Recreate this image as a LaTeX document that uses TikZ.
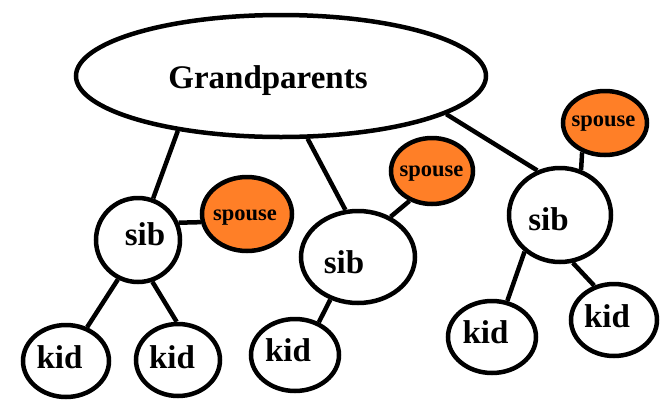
\documentclass[tikz,border=0pt]{standalone}
\usepackage{fontspec}
\setmainfont{Liberation Serif}
\usetikzlibrary{shapes.geometric}
\definecolor{sporange}{RGB}{255,127,39}
\begin{document}
\begin{tikzpicture}[x=1pt,y=-1pt, line width=4.5pt,
  oval/.style={ellipse, draw=black, fill=white, inner sep=0pt},
  spousebox/.style={oval, fill=sporange},
  big/.style={font=\fontsize{33}{36}\selectfont\bfseries, anchor=base, inner sep=0pt},
  small/.style={font=\fontsize{22.5}{25}\selectfont\bfseries, anchor=base, inner sep=0pt},
  link/.style={line width=4.5pt, line cap=butt}]
\useasboundingbox (0,0) rectangle (665,416);
% shapes
\node[oval, minimum width=410pt, minimum height=122pt] (gp) at (281,76) {};
\node[oval, minimum width=84pt, minimum height=84pt] (sib1) at (138,240) {};
\node[spousebox, minimum width=90pt, minimum height=74pt] (sp1) at (247,214) {};
\node[oval, minimum width=86pt, minimum height=72pt] (kid1) at (66,361) {};
\node[oval, minimum width=84pt, minimum height=72pt] (kid2) at (178,360) {};
\node[oval, minimum width=114pt, minimum height=92pt] (sib2) at (358,257) {};
\node[spousebox, minimum width=82pt, minimum height=66pt] (sp2) at (432,171) {};
\node[oval, minimum width=88pt, minimum height=72pt] (kid3) at (295,355) {};
\node[oval, minimum width=102pt, minimum height=94pt] (sib3) at (560,215) {};
\node[spousebox, minimum width=84pt, minimum height=64pt] (sp3) at (605,123) {};
\node[oval, minimum width=88pt, minimum height=72pt] (kid4) at (492,337) {};
\node[oval, minimum width=86pt, minimum height=72pt] (kid5) at (614,320) {};
% connectors
\draw[link] (gp.208) -- (sib1.70);
\draw[link] (gp.293) -- (sib2.105);
\draw[link] (gp.347) -- (sib3.117);
\draw[link] (sib1.23) -- (sp1.190);
\draw[link] (sib1.243) -- (kid1.58);
\draw[link] (sib1.289) -- (kid2.92);
\draw[link] (sib2.51) -- (sp2.233);
\draw[link] (sib2.237) -- (kid3.54);
\draw[link] (sib3.65) -- (sp3.232);
\draw[link] (sib3.226) -- (kid4.67);
\draw[link] (sib3.285) -- (kid5.120);
% texts
\node[big] (tgp) at (268,88) {Grandparents};
\node[big] (tsib1) at (145,245.7) {sib};
\node[big] (tkid1) at (59.5,368) {kid};
\node[big] (tkid2) at (172,368) {kid};
\node[small] (tsp1) at (245,220) {spouse};
\node[big] (tsib2) at (344,273) {sib};
\node[small] (tsp2) at (431.5,176) {spouse};
\node[big] (tkid3) at (288,361) {kid};
\node[big] (tsib3) at (548.5,230.7) {sib};
\node[small] (tsp3) at (603.5,126.7) {spouse};
\node[big] (tkid4) at (485.5,343) {kid};
\node[big] (tkid5) at (607,327) {kid};
\end{tikzpicture}
\end{document}
